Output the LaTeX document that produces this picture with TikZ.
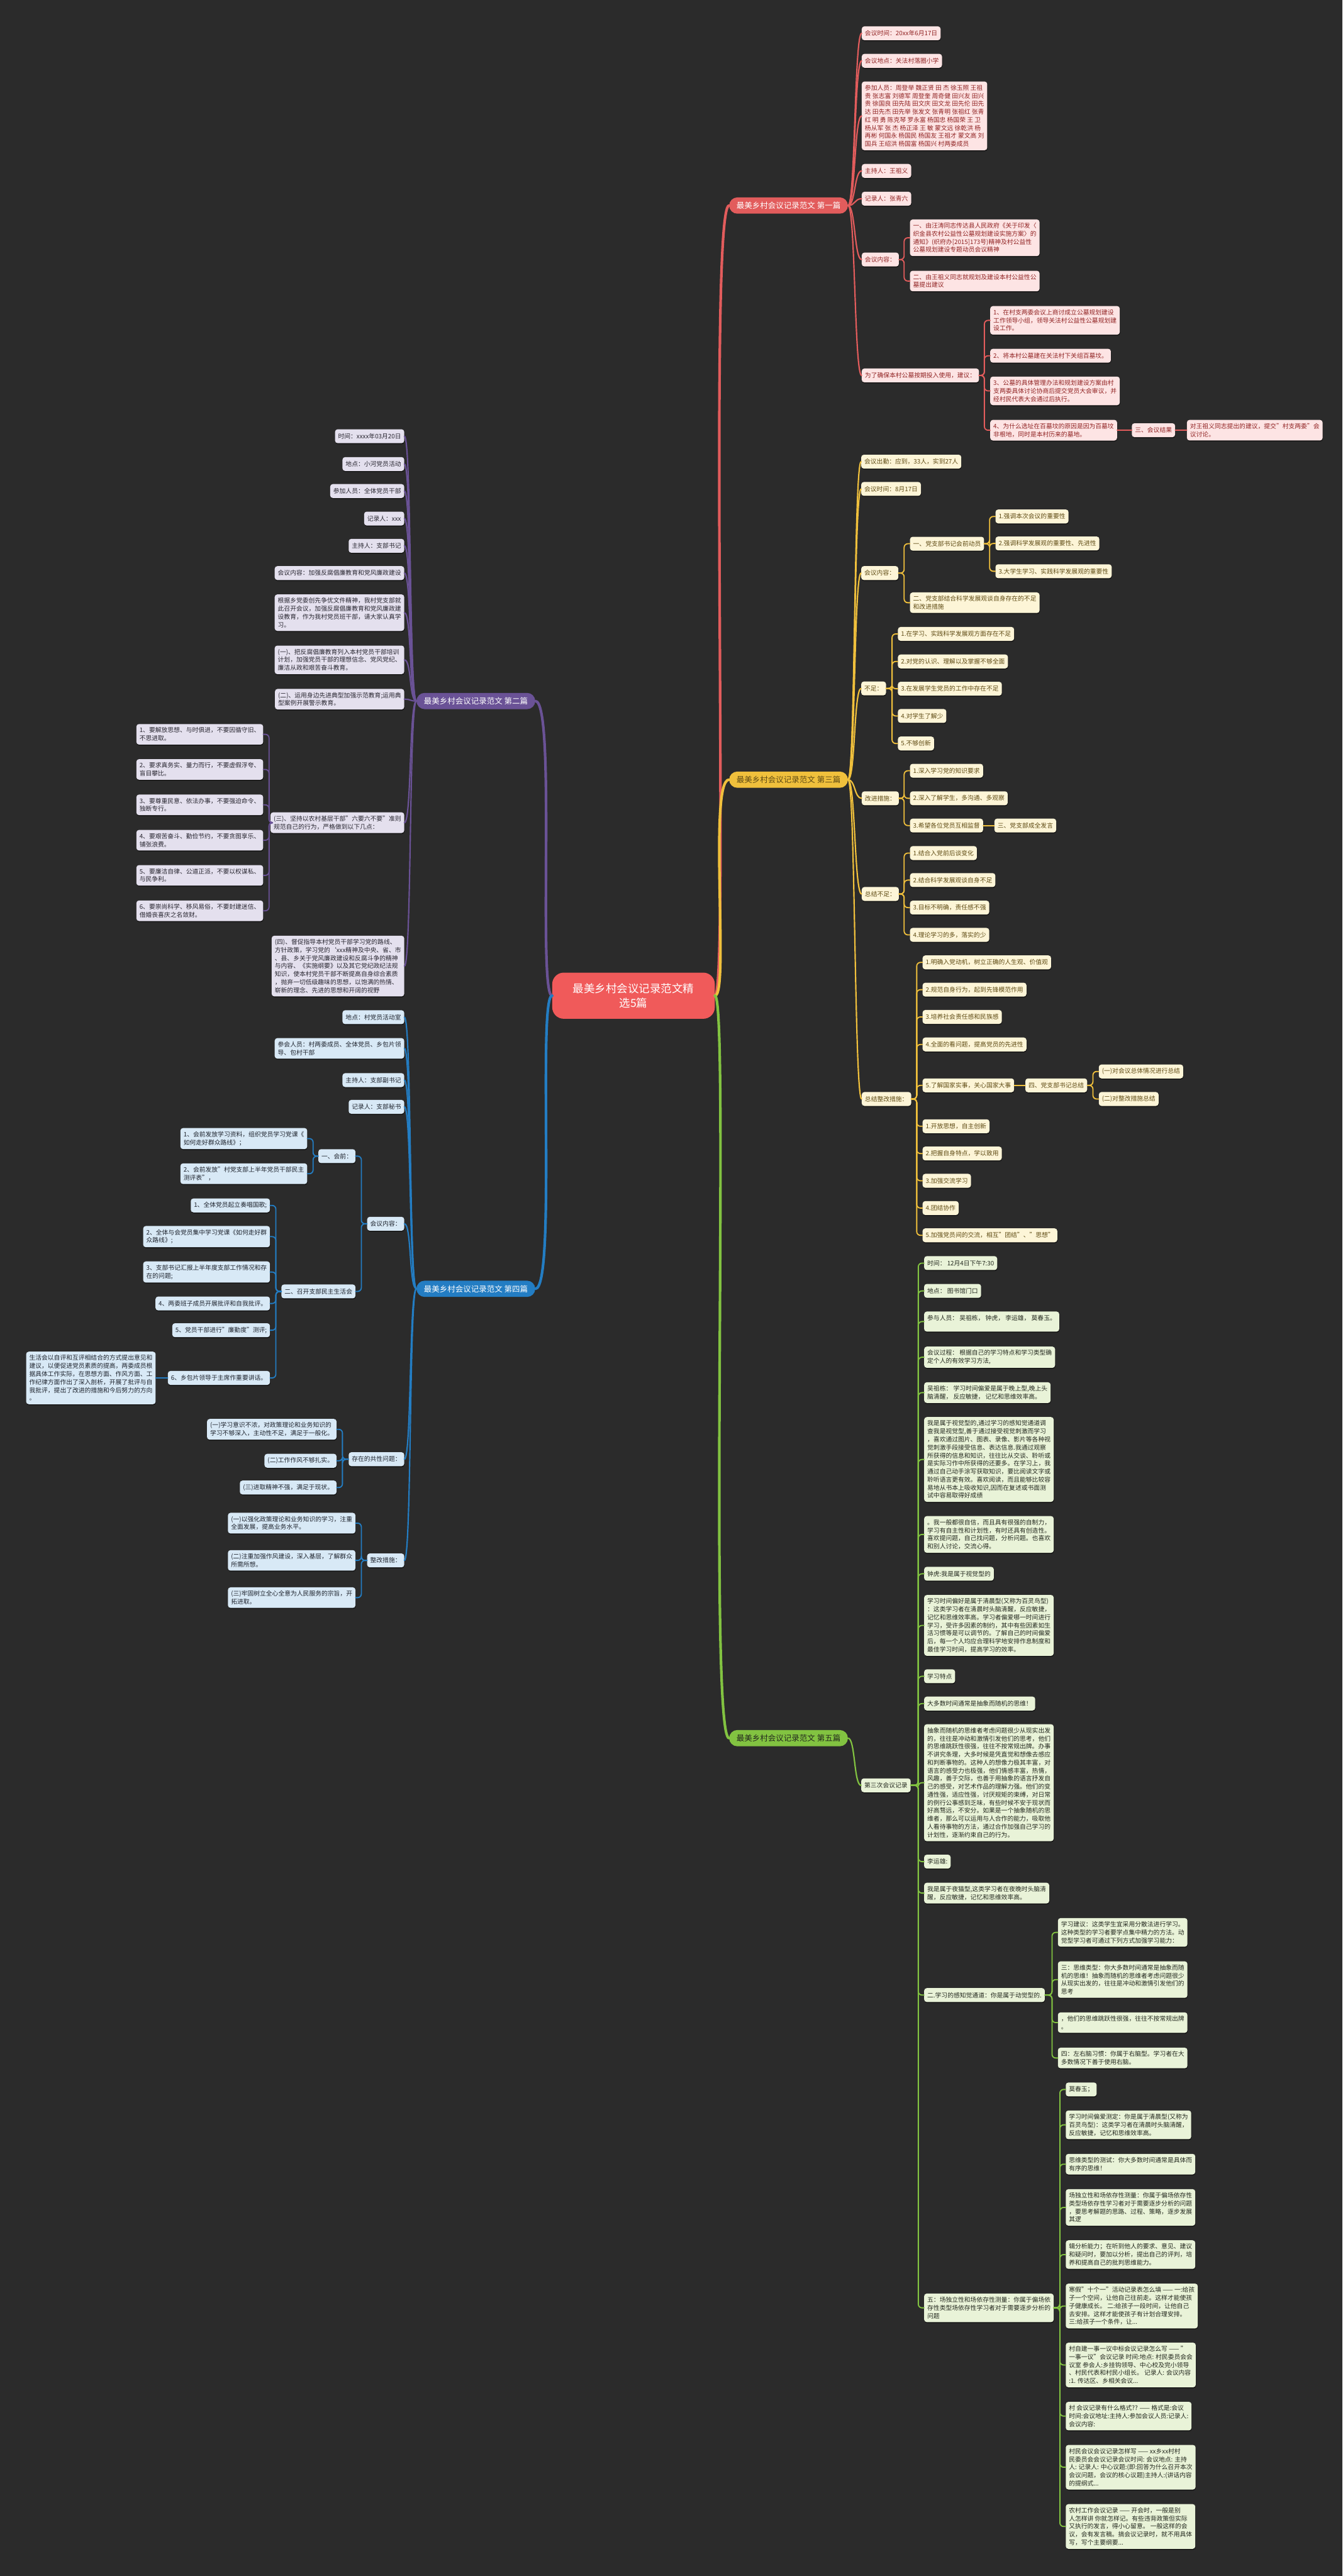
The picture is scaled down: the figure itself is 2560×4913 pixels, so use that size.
\documentclass[tikz,border=0pt]{standalone}
\usepackage{fontspec}
\setmainfont{Noto Sans CJK SC}
\usetikzlibrary{shadows}
\definecolor{bg}{RGB}{43,43,43}
\definecolor{cRed}{RGB}{226,92,92}
\definecolor{fRed}{RGB}{253,228,228}
\definecolor{tRed}{RGB}{145,35,35}
\definecolor{cPur}{RGB}{106,82,150}
\definecolor{fPur}{RGB}{228,224,238}
\definecolor{tPur}{RGB}{40,38,48}
\definecolor{cYel}{RGB}{240,192,60}
\definecolor{fYel}{RGB}{253,245,215}
\definecolor{tYel}{RGB}{95,75,20}
\definecolor{cBlu}{RGB}{35,125,195}
\definecolor{fBlu}{RGB}{216,233,246}
\definecolor{tBlu}{RGB}{30,35,45}
\definecolor{cGrn}{RGB}{130,195,65}
\definecolor{fGrn}{RGB}{233,243,216}
\definecolor{tGrn}{RGB}{35,40,30}
\definecolor{cCen}{RGB}{240,90,90}
\newcommand\elbR[3]{\draw[ln,#3] (#1.east) -| ([xshift=-11pt]#2.west) -- (#2.west);}
\newcommand\elbL[3]{\draw[ln,#3] (#1.west) -| ([xshift=11pt]#2.east) -- (#2.east);}
\newcommand\curR[3]{\draw[ln,#3,line width=2.6pt,rounded corners=0pt] (#1.east) .. controls +(14,0) and +(-14,0) .. (#2.west);}
\newcommand\curL[3]{\draw[ln,#3,line width=2.6pt,rounded corners=0pt] (#1.west) .. controls +(-14,0) and +(14,0) .. (#2.east);}
\begin{document}
\begin{tikzpicture}[x=1pt,y=-1pt,
  bx/.style={rounded corners=5pt, inner xsep=6pt, inner ysep=6.5pt, align=left,
    font=\fontsize{11.75}{15.3}\selectfont, minimum height=26.5pt,
    drop shadow={shadow xshift=0.6pt, shadow yshift=-1.8pt, opacity=0.55, fill=black}},
  R/.style={bx, anchor=west}, L/.style={bx, anchor=east},
  s1/.style={fill=fRed, text=tRed}, s2/.style={fill=fPur, text=tPur},
  s3/.style={fill=fYel, text=tYel}, s4/.style={fill=fBlu, text=tBlu},
  s5/.style={fill=fGrn, text=tGrn},
  ttl/.style={rounded corners=15.5pt, minimum height=31pt, inner xsep=14pt,
    font=\fontsize{15}{18}\selectfont, text=white},
  ln/.style={line width=2.2pt, line cap=round, rounded corners=7pt},
  mainln/.style={line width=5pt, line cap=round}]
\fill[bg] (0,0) rectangle (2560,4913);
\useasboundingbox (0,0) rectangle (2560,4913);

% ---------- centre and branch titles ----------
\node[fill=cCen, text=white, rounded corners=22pt, minimum width=310pt, minimum height=88pt, align=center, font=\fontsize{21}{27}\selectfont] (C) at (1208,1899) {最美乡村会议记录范文精\\选5篇};
\node[ttl, fill=cRed, anchor=east] (T1) at (1617,392) {最美乡村会议记录范文 第一篇};
\node[ttl, fill=cPur, anchor=west] (T2) at (794,1337) {最美乡村会议记录范文 第二篇};
\node[ttl, fill=cYel, anchor=east, text=tYel] (T3) at (1617,1487) {最美乡村会议记录范文 第三篇};
\node[ttl, fill=cBlu, anchor=west] (T4) at (794,2458) {最美乡村会议记录范文 第四篇};
\node[ttl, fill=cGrn, anchor=east, text=tGrn] (T5) at (1617,3315) {最美乡村会议记录范文 第五篇};

% ---------- branch 1 ----------
\node[R,s1] (a1) at (1643,63.5) {会议时间：20xx年6月17日};
\node[R,s1] (a2) at (1643,116) {会议地点：关法村落圈小学};
\node[R,s1] (a3) at (1643,221) {参加人员：周登举 魏正贤 田 杰 徐玉照 王祖\\贵 张志富 刘德军 周登奎 周奇健 田兴友 田兴\\贵 徐国良 田先陆 田文庆 田文龙 田先伦 田先\\达 田先杰 田先举 张发文 张青明 张祖红 张青\\红 明 勇 陈克琴 罗永富 杨国忠 杨国荣 王 卫\\杨从军 张 杰 杨正泽 王 敏 蒙文远 徐乾洪 杨\\再彬 何国永 杨国民 杨国友 王祖才 蒙文高 刘\\国兵 王绍洪 杨国富 杨国兴 村两委成员};
\node[R,s1] (a4) at (1643,326) {主持人：王祖义};
\node[R,s1] (a5) at (1643,379) {记录人：张青六};
\node[R,s1] (a6) at (1643,495) {会议内容：};
\node[R,s1] (a61) at (1735,453.5) {一、由汪涛同志传达县人民政府《关于印发〈\\织金县农村公益性公墓规划建设实施方案〉的\\通知》(织府办[2015]173号)精神及村公益性\\公墓规划建设专题动员会议精神};
\node[R,s1] (a62) at (1735,536) {二、由王祖义同志就规划及建设本村公益性公\\墓提出建议};
\node[R,s1] (a7) at (1643,716) {为了确保本村公墓按期投入使用，建议：};
\node[R,s1] (a71) at (1888,611) {1、在村支两委会议上商讨成立公墓规划建设\\工作领导小组，领导关法村公益性公墓规划建\\设工作。};
\node[R,s1] (a72) at (1888,678.5) {2、将本村公墓建在关法村下关组百墓坟。};
\node[R,s1] (a73) at (1888,745.5) {3、公墓的具体管理办法和规划建设方案由村\\支两委具体讨论协商后提交党员大会审议，并\\经村民代表大会通过后执行。};
\node[R,s1] (a74) at (1888,820.5) {4、为什么选址在百墓坟的原因是因为百墓坟\\非根地，同时是本村历来的墓地。};
\node[R,s1] (a75) at (2158,820.5) {三、会议结果};
\node[R,s1] (a76) at (2263,820.5) {对王祖义同志提出的建议，提交"村支两委"会\\议讨论。};

% ---------- branch 2 ----------
\node[L,s2] (b1) at (771,832) {时间：xxxx年03月20日};
\node[L,s2] (b2) at (771,885) {地点：小河党员活动};
\node[L,s2] (b3) at (771,936.5) {参加人员：全体党员干部};
\node[L,s2] (b4) at (771,989) {记录人：xxx};
\node[L,s2] (b5) at (771,1041) {主持人：支部书记};
\node[L,s2] (b6) at (771,1093) {会议内容：加强反腐倡廉教育和党风廉政建设};
\node[L,s2] (b7) at (771,1168.5) {根据乡党委创先争优文件精神，我村党支部就\\此召开会议，加强反腐倡廉教育和党风廉政建\\设教育，作为我村党员班干部，请大家认真学\\习。};
\node[L,s2] (b8) at (771,1258.5) {(一)、把反腐倡廉教育列入本村党员干部培训\\计划，加强党员干部的理想信念、党风党纪、\\廉洁从政和艰苦奋斗教育。};
\node[L,s2] (b9) at (771,1333.5) {(二)、运用身边先进典型加强示范教育;运用典\\型案例开展警示教育。};
\node[L,s2] (b10) at (771,1569) {(三)、坚持以农村基层干部"六要六不要"准则\\规范自己的行为，严格做到以下几点：};
\node[L,s2] (b101) at (502,1400.5) {1、要解放思想、与时俱进，不要因循守旧、\\不思进取。};
\node[L,s2] (b102) at (502,1467.5) {2、要求真务实、量力而行，不要虚假浮夸、\\盲目攀比。};
\node[L,s2] (b103) at (502,1535) {3、要尊重民意、依法办事，不要强迫命令、\\独断专行。};
\node[L,s2] (b104) at (502,1602.5) {4、要艰苦奋斗、勤俭节约，不要贪图享乐、\\铺张浪费。};
\node[L,s2] (b105) at (502,1669.5) {5、要廉洁自律、公道正派，不要以权谋私、\\与民争利。};
\node[L,s2] (b106) at (502,1737) {6、要崇尚科学、移风易俗，不要封建迷信、\\借婚丧喜庆之名敛财。};
\node[L,s2] (b11) at (771,1842.5) {(四)、督促指导本村党员干部学习党的路线、\\方针政策，学习党的`xxx精神及中央、省、市\\、县、乡关于党风廉政建设和反腐斗争的精神\\与内容、《实施纲要》以及其它党纪政纪法规\\知识，使本村党员干部不断提高自身综合素质\\，抛弃一切低级趣味的思想，以饱满的热情、\\崭新的理念、先进的思想和开阔的视野};

% ---------- branch 3 ----------
\node[R,s3] (c1) at (1642,880.5) {会议出勤：应到，33人，实到27人};
\node[R,s3] (c2) at (1642,932.5) {会议时间：8月17日};
\node[R,s3] (c3) at (1642,1093) {会议内容：};
\node[R,s3] (c31) at (1735,1037) {一、党支部书记会前动员};
\node[R,s3] (c311) at (1898,985) {1.强调本次会议的重要性};
\node[R,s3] (c312) at (1898,1036.5) {2.强调科学发展观的重要性、先进性};
\node[R,s3] (c313) at (1898,1089.5) {3.大学生学习、实践科学发展观的重要性};
\node[R,s3] (c32) at (1735,1149.5) {二、党支部结合科学发展观谈自身存在的不足\\和改进措施};
\node[R,s3] (c4) at (1642,1313) {不足：};
\node[R,s3] (c41) at (1712,1209) {1.在学习、实践科学发展观方面存在不足};
\node[R,s3] (c42) at (1712,1261.5) {2.对党的认识、理解以及掌握不够全面};
\node[R,s3] (c43) at (1712,1313.5) {3.在发展学生党员的工作中存在不足};
\node[R,s3] (c44) at (1712,1365.5) {4.对学生了解少};
\node[R,s3] (c45) at (1712,1418) {5.不够创新};
\node[R,s3] (c5) at (1643,1522.5) {改进措施：};
\node[R,s3] (c51) at (1735,1470) {1.深入学习党的知识要求};
\node[R,s3] (c52) at (1735,1522.5) {2.深入了解学生，多沟通、多观察};
\node[R,s3] (c53) at (1735,1574.5) {3.希望各位党员互相监督};
\node[R,s3] (c531) at (1896,1574.5) {三、党支部成全发言};
\node[R,s3] (c6) at (1643,1705) {总结不足：};
\node[R,s3] (c61) at (1735,1627) {1.结合入党前后谈变化};
\node[R,s3] (c62) at (1735,1678.5) {2.结合科学发展观谈自身不足};
\node[R,s3] (c63) at (1735,1731) {3.目标不明确，责任感不强};
\node[R,s3] (c64) at (1735,1783) {4.理论学习的多，落实的少};
\node[R,s3] (c7) at (1643,2096) {总结整改措施：};
\node[R,s3] (c71) at (1759,1835.5) {1.明确入党动机，树立正确的人生观、价值观};
\node[R,s3] (c72) at (1759,1887.5) {2.规范自身行为，起到先锋模范作用};
\node[R,s3] (c73) at (1759,1939.5) {3.培养社会责任感和民族感};
\node[R,s3] (c74) at (1759,1992) {4.全面的看问题，提高党员的先进性};
\node[R,s3] (c75) at (1759,2070) {5.了解国家实事，关心国家大事};
\node[R,s3] (c751) at (1955,2070) {四、党支部书记总结};
\node[R,s3] (c7511) at (2095,2043.5) {(一)对会议总体情况进行总结};
\node[R,s3] (c7512) at (2095,2096) {(二)对整改措施总结};
\node[R,s3] (c76) at (1759,2148) {1.开放思想，自主创新};
\node[R,s3] (c77) at (1759,2200) {2.把握自身特点，学以致用};
\node[R,s3] (c78) at (1759,2252) {3.加强交流学习};
\node[R,s3] (c79) at (1759,2304) {4.团结协作};
\node[R,s3] (c710) at (1759,2356) {5.加强党员间的交流，相互"团结"、"思想"};

% ---------- branch 4 ----------
\node[L,s4] (d1) at (771,1940) {地点：村党员活动室};
\node[L,s4] (d2) at (771,1999.5) {参会人员：村两委成员、全体党员、乡包片领\\导、包村干部};
\node[L,s4] (d3) at (771,2060) {主持人：支部副书记};
\node[L,s4] (d4) at (771,2111) {记录人：支部秘书};
\node[L,s4] (d5) at (771,2334) {会议内容：};
\node[L,s4] (d51) at (678,2205) {一、会前：};
\node[L,s4] (d511) at (586,2171.5) {1、会前发放学习资料，组织党员学习党课《\\如何走好群众路线》；};
\node[L,s4] (d512) at (586,2238.5) {2、会前发放"村党支部上半年党员干部民主\\测评表"，};
\node[L,s4] (d52) at (678,2463) {二、召开支部民主生活会};
\node[L,s4] (d521) at (515,2299) {1、全体党员起立奏唱国歌;};
\node[L,s4] (d522) at (515,2358.5) {2、全体与会党员集中学习党课《如何走好群\\众路线》;};
\node[L,s4] (d523) at (515,2426) {3、支部书记汇报上半年度支部工作情况和存\\在的问题;};
\node[L,s4] (d524) at (515,2486) {4、两委班子成员开展批评和自我批评。};
\node[L,s4] (d525) at (515,2537) {5、党员干部进行"廉勤度"测评;};
\node[L,s4] (d526) at (515,2628) {6、乡包片领导于主席作重要讲话。};
\node[L,s4] (d5261) at (297,2628) {生活会以自评和互评相结合的方式提出意见和\\建议，以便促进党员素质的提高，两委成员根\\据具体工作实际，在思想方面、作风方面、工\\作纪律方面作出了深入剖析，开展了批评与自\\我批评，提出了改进的措施和今后努力的方向\\。};
\node[L,s4] (d6) at (771,2783) {存在的共性问题：};
\node[L,s4] (d61) at (642,2726) {(一)学习意识不浓，对政策理论和业务知识的\\学习不够深入，主动性不足，满足于一般化。};
\node[L,s4] (d62) at (642,2786) {(二)工作作风不够扎实。};
\node[L,s4] (d63) at (642,2837) {(三)进取精神不强，满足于现状。};
\node[L,s4] (d7) at (771,2976) {整改措施：};
\node[L,s4] (d71) at (678,2905) {(一)以强化政策理论和业务知识的学习，注重\\全面发展，提高业务水平。};
\node[L,s4] (d72) at (678,2976) {(二)注重加强作风建设，深入基层，了解群众\\所需所想。};
\node[L,s4] (d73) at (678,3047) {(三)牢固树立全心全意为人民服务的宗旨，开\\拓进取。};

% ---------- branch 5 ----------
\node[R,s5] (e1) at (1642,3405) {第三次会议记录};
\node[R,s5] (e101) at (1762,2409) {时间： 12月4日下午7:30};
\node[R,s5] (e102) at (1762,2462) {地点： 图书馆门口};
\node[R,s5] (e103) at (1762,2520.5) {参与人员： 吴祖栋， 钟虎， 李运雄， 莫春玉。\\ ~};
\node[R,s5] (e104) at (1762,2588.5) {会议过程： 根据自己的学习特点和学习类型确\\定个人的有效学习方法,};
\node[R,s5] (e105) at (1762,2656) {吴祖栋： 学习时间偏爱是属于晚上型,晚上头\\脑清醒， 反应敏捷， 记忆和思维效率高。};
\node[R,s5] (e106) at (1762,2783.5) {我是属于视觉型的,通过学习的感知觉通道调\\查我是视觉型,善于通过接受视觉刺激而学习\\，喜欢通过图片、图表、录像、影片等各种视\\觉刺激手段接受信息、表达信息.我通过观察\\所获得的信息和知识，往往比从交谈、聆听或\\是实际习作中所获得的还要多。在学习上，我\\通过自己动手涂写获取知识，要比阅读文字或\\聆听语言更有效。喜欢阅读，而且能够比较容\\易地从书本上吸收知识,因而在复述或书面测\\试中容易取得好成绩};
\node[R,s5] (e107) at (1762,2926.5) {。我一般都很自信，而且具有很强的自制力，\\学习有自主性和计划性，有时还具有创造性。\\喜欢提问题，自己找问题，分析问题。也喜欢\\和别人讨论，交流心得。};
\node[R,s5] (e108) at (1762,3001.5) {钟虎:我是属于视觉型的};
\node[R,s5] (e109) at (1762,3100) {学习时间偏好是属于清晨型(又称为百灵鸟型)\\：这类学习者在清晨时头脑清醒，反应敏捷，\\记忆和思维效率高。学习者偏爱哪一时间进行\\学习，受许多因素的制约，其中有些因素如生\\活习惯等是可以调节的。了解自己的时间偏爱\\后，每一个人均应合理科学地安排作息制度和\\最佳学习时间，提高学习的效率。};
\node[R,s5] (e110) at (1762,3197) {学习特点};
\node[R,s5] (e111) at (1762,3249) {大多数时间通常是抽象而随机的思维！};
\node[R,s5] (e112) at (1762,3400) {抽象而随机的思维者考虑问题很少从现实出发\\的，往往是冲动和激情引发他们的思考，他们\\的思维跳跃性很强，往往不按常规出牌。办事\\不讲究条理，大多时候是凭直觉和想像去感应\\和判断事物的。这种人的想像力极其丰富，对\\语言的感受力也极强，他们情感丰富，热情，\\风趣，善于交际，也善于用抽象的语言抒发自\\己的感受，对艺术作品的理解力强。他们的变\\通性强，适应性强，讨厌规矩的束缚，对日常\\的例行公事感到乏味，有些时候不安于现状而\\好高骛远，不安分。如果是一个抽象随机的思\\维者，那么可以运用与人合作的能力，吸取他\\人看待事物的方法，通过合作加强自己学习的\\计划性，逐渐约束自己的行为。};
\node[R,s5] (e113) at (1762,3550.5) {李运雄:};
\node[R,s5] (e114) at (1762,3610.5) {我是属于夜猫型,这类学习者在夜晚时头脑清\\醒，反应敏捷，记忆和思维效率高。};
\node[R,s5] (e115) at (1762,3805) {二.学习的感知觉通道：你是属于动觉型的.};
\node[R,s5] (e1151) at (2017,3685.5) {学习建议：这类学生宜采用分散法进行学习。\\这种类型的学习者要学点集中精力的方法。动\\觉型学习者可通过下列方式加强学习能力：};
\node[R,s5] (e1152) at (2017,3775.5) {三：思维类型：你大多数时间通常是抽象而随\\机的思维！抽象而随机的思维者考虑问题很少\\从现实出发的，往往是冲动和激情引发他们的\\思考};
\node[R,s5] (e1153) at (2017,3857.5) {，他们的思维跳跃性很强，往往不按常规出牌\\。};
\node[R,s5] (e1154) at (2017,3925) {四：左右脑习惯：你属于右脑型。学习者在大\\多数情况下善于使用右脑。};
\node[R,s5] (e116) at (1762,4401.5) {五：场独立性和场依存性测量：你属于偏场依\\存性类型场依存性学习者对于需要逐步分析的\\问题};
\node[R,s5] (e1161) at (2032,3985) {莫春玉；};
\node[R,s5] (e1162) at (2032,4052.5) {学习时间偏爱测定：你是属于清晨型(又称为\\百灵鸟型)：这类学习者在清晨时头脑清醒，\\反应敏捷，记忆和思维效率高。};
\node[R,s5] (e1163) at (2032,4127.5) {思维类型的测试：你大多数时间通常是具体而\\有序的思维！};
\node[R,s5] (e1164) at (2032,4210) {场独立性和场依存性测量：你属于偏场依存性\\类型场依存性学习者对于需要逐步分析的问题\\，要思考解题的思路、过程、策略，逐步发展\\其逻};
\node[R,s5] (e1165) at (2032,4300) {辑分析能力；在听到他人的要求、意见、建议\\和疑问时，要加以分析，提出自己的评判，培\\养和提高自己的批判思维能力。};
\node[R,s5] (e1166) at (2032,4398) {寒假"十个一"活动记录表怎么填 —— 一:给孩\\子一个空间，让他自己往前走。这样才能使孩\\子健康成长。 二:给孩子一段时间，让他自己\\去安排。这样才能使孩子有计划合理安排。\\三:给孩子一个条件，让...};
\node[R,s5] (e1167) at (2032,4510.5) {村自建一事一议中标会议记录怎么写 —— "\\一事一议"会议记录 时间:地点: 村民委员会会\\议室 参会人:乡挂钩领导、中心校及完小领导\\、村民代表和村民小组长。 记录人: 会议内容\\:1. 传达区、乡相关会议...};
\node[R,s5] (e1168) at (2032,4608) {村 会议记录有什么格式?? —— 格式是:会议\\时间:会议地址:主持人:参加会议人员:记录人:\\会议内容:};
\node[R,s5] (e1169) at (2032,4705.5) {村民会议会议记录怎样写 —— xx乡xx村村\\民委员会会议记录会议时间: 会议地点: 主持\\人: 记录人: 中心议题:(即:回答为什么召开本次\\会议问题，会议的核心议题)主持人:(讲话内容\\的提纲式...};
\node[R,s5] (e1170) at (2032,4818.5) {农村工作会议记录 —— 开会时，一般是别\\人怎样讲 你就怎样记。有些违背政策但实际\\又执行的发言，得小心留意。 一般这样的会\\议，会有发言稿。搞会议记录时，就不用具体\\写，写个主要纲要...};

% ---------- connectors ----------
\draw[mainln,cRed] (C.east) .. controls +(28,0) and +(-40,0) .. (T1.west);
\draw[mainln,cYel] (C.east) .. controls +(28,0) and +(-40,0) .. (T3.west);
\draw[mainln,cGrn] (C.east) .. controls +(28,0) and +(-40,0) .. (T5.west);
\draw[mainln,cPur] (C.west) .. controls +(-28,0) and +(40,0) .. (T2.east);
\draw[mainln,cBlu] (C.west) .. controls +(-28,0) and +(40,0) .. (T4.east);

\foreach \n in {a1,a2,a3,a4,a5,a6,a7} {\curR{T1}{\n}{cRed}}
\foreach \n in {a61,a62} {\elbR{a6}{\n}{cRed}}
\foreach \n in {a71,a72,a73,a74} {\elbR{a7}{\n}{cRed}}
\draw[ln,cRed] (a74.east) -- (a75.west);
\draw[ln,cRed] (a75.east) -- (a76.west);

\foreach \n in {b1,b2,b3,b4,b5,b6,b7,b8,b9,b10,b11} {\curL{T2}{\n}{cPur}}
\foreach \n in {b101,b102,b103,b104,b105,b106} {\elbL{b10}{\n}{cPur}}

\foreach \n in {c1,c2,c3,c4,c5,c6,c7} {\curR{T3}{\n}{cYel}}
\foreach \n in {c31,c32} {\elbR{c3}{\n}{cYel}}
\foreach \n in {c311,c312,c313} {\elbR{c31}{\n}{cYel}}
\foreach \n in {c41,c42,c43,c44,c45} {\elbR{c4}{\n}{cYel}}
\foreach \n in {c51,c52,c53} {\elbR{c5}{\n}{cYel}}
\draw[ln,cYel] (c53.east) -- (c531.west);
\foreach \n in {c61,c62,c63,c64} {\elbR{c6}{\n}{cYel}}
\foreach \n in {c71,c72,c73,c74,c75,c76,c77,c78,c79,c710} {\elbR{c7}{\n}{cYel}}
\draw[ln,cYel] (c75.east) -- (c751.west);
\foreach \n in {c7511,c7512} {\elbR{c751}{\n}{cYel}}

\foreach \n in {d1,d2,d3,d4,d5,d6,d7} {\curL{T4}{\n}{cBlu}}
\foreach \n in {d51,d52} {\elbL{d5}{\n}{cBlu}}
\foreach \n in {d511,d512} {\elbL{d51}{\n}{cBlu}}
\foreach \n in {d521,d522,d523,d524,d525,d526} {\elbL{d52}{\n}{cBlu}}
\draw[ln,cBlu] (d526.west) -- (d5261.east);
\foreach \n in {d61,d62,d63} {\elbL{d6}{\n}{cBlu}}
\foreach \n in {d71,d72,d73} {\elbL{d7}{\n}{cBlu}}

\curR{T5}{e1}{cGrn}
\foreach \n in {e101,e102,e103,e104,e105,e106,e107,e108,e109,e110,e111,e112,e113,e114,e115,e116} {\elbR{e1}{\n}{cGrn}}
\foreach \n in {e1151,e1152,e1153,e1154} {\elbR{e115}{\n}{cGrn}}
\foreach \n in {e1161,e1162,e1163,e1164,e1165,e1166,e1167,e1168,e1169,e1170} {\elbR{e116}{\n}{cGrn}}
\end{tikzpicture}
\end{document}
